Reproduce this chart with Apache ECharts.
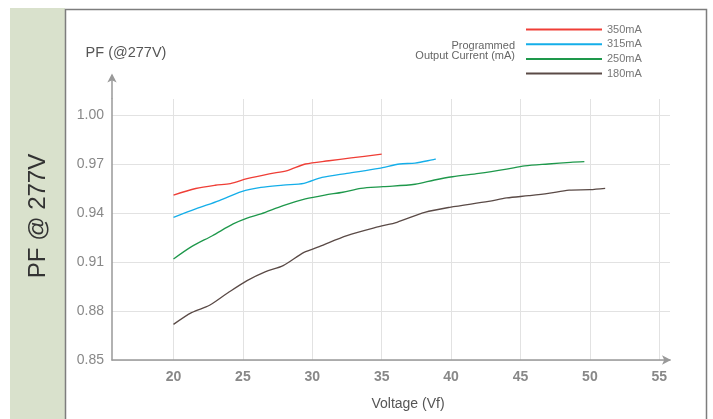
<!DOCTYPE html>
<html>
<head>
<meta charset="utf-8">
<script src="https://cdn.jsdelivr.net/npm/echarts@6/dist/echarts.min.js"></script>
<style>
html,body{margin:0;padding:0;background:#fff;}
#chart{width:713px;height:419px;}
</style>
</head>
<body>
<div id="chart"></div>
<script>
// Tick labels
const xTicks = [20, 25, 30, 35, 40, 45, 50, 55];
const yTicks = [0.85, 0.88, 0.91, 0.94, 0.97, 1.00];
const seriesNames = ['350mA', '315mA', '250mA', '180mA'];

// 350mA
const v350 = [20, 21.6, 23.0, 24.1, 25.3, 26.9, 28.2, 29.5, 31.2, 32.8, 35.0];
const pf350 = [0.951, 0.955, 0.957, 0.958, 0.961, 0.964, 0.966, 0.970, 0.972, 0.9737, 0.976];
// 315mA
const v315 = [20, 21.6, 23.3, 24.9, 26.3, 27.9, 29.4, 30.7, 32.5, 34.8, 36.3, 37.4, 38.9];
const pf315 = [0.9373, 0.9425, 0.9476, 0.9531, 0.9557, 0.9571, 0.9582, 0.9618, 0.9643, 0.9673, 0.970, 0.9706, 0.973];
// 250mA
const v250 = [20, 21.3, 22.8, 24.3, 25.3, 26.3, 27.9, 29.5, 30.9, 32.2, 33.5, 35.1, 37.4, 38.8, 40.1, 42, 44, 45.3, 47, 48.6, 49.6];
const pf250 = [0.9118, 0.9194, 0.9261, 0.9333, 0.9369, 0.9394, 0.9445, 0.9486, 0.951, 0.9527, 0.9551, 0.9561, 0.9576, 0.9602, 0.9622, 0.9643, 0.9669, 0.9688, 0.970, 0.971, 0.9714];
// 180mA
const v180 = [20, 21.3, 22.6, 23.9, 25.3, 26.6, 27.9, 29.4, 30.5, 32.5, 34.8, 36.1, 38.1, 39.9, 42.7, 44, 45.6, 47, 48.5, 50, 51.1];
const pf180 = [0.8718, 0.879, 0.8835, 0.891, 0.8986, 0.904, 0.9078, 0.9159, 0.9194, 0.9261, 0.9316, 0.9343, 0.9404, 0.9435, 0.9471, 0.9492, 0.9506, 0.952, 0.954, 0.9543, 0.9551];

const colors = ['#ef3e36', '#14aee9', '#1e984b', '#5a4a46'];
const xs = [v350, v315, v250, v180];
const ys = [pf350, pf315, pf250, pf180];

const font = "'Liberation Sans', Arial, Helvetica, sans-serif";
const chart = echarts.init(document.getElementById('chart'), null, {renderer: 'canvas'});

const series = seriesNames.map((n, i) => ({
  name: n,
  type: 'line',
  data: xs[i].map((v, j) => [v, ys[i][j]]),
  smooth: 0.3,
  showSymbol: false,
  lineStyle: {color: colors[i], width: 1.3},
  itemStyle: {color: colors[i]},
  emphasis: {disabled: true},
  animation: false
}));

chart.setOption({
  animation: false,
  textStyle: {fontFamily: font},
  grid: {left: 112, top: 99, right: 43, bottom: 59, containLabel: false},
  graphic: [
    {type: 'rect', shape: {x: 10, y: 8, width: 55, height: 420}, style: {fill: '#d9e1cc'}, z: -10},
    {type: 'rect', shape: {x: 65.5, y: 9.5, width: 641, height: 420}, style: {fill: 'none', stroke: '#7d7d7d', lineWidth: 1.5}, z: -5},
    {type: 'text', x: 38, y: 216, rotation: Math.PI / 2,
     style: {text: 'PF @ 277V', font: "24px " + font, fill: '#333', align: 'center', verticalAlign: 'middle'}},
    {type: 'line', shape: {x1: 112, y1: 99, x2: 112, y2: 75}, style: {stroke: '#999', lineWidth: 1.5}},
    {type: 'text', x: 515, y: 46,
     style: {text: 'Programmed', font: "11px " + font, fill: '#666', align: 'right', verticalAlign: 'middle'}},
    {type: 'text', x: 515, y: 56,
     style: {text: 'Output Current (mA)', font: "11px " + font, fill: '#666', align: 'right', verticalAlign: 'middle'}}
  ],
  legend: {
    data: seriesNames,
    orient: 'vertical',
    left: 526,
    top: 23,
    itemWidth: 76,
    itemHeight: 2,
    itemGap: 1.7,
    icon: 'rect',
    padding: 0,
    selectedMode: false,
    textStyle: {fontSize: 11, lineHeight: 13, color: '#777', fontFamily: font}
  },
  xAxis: {
    type: 'value',
    min: 15.57,
    max: 55.77,
    name: 'Voltage (Vf)',
    nameLocation: 'middle',
    nameGap: 37,
    nameTextStyle: {fontSize: 14, color: '#555', padding: [0, 0, 0, 34]},
    axisLine: {show: true, onZero: false, symbol: ['none', 'arrow'], symbolSize: [7, 9], symbolOffset: [0, 1],
      lineStyle: {color: '#999', width: 1.5}},
    axisTick: {show: false, customValues: xTicks},
    axisLabel: {customValues: xTicks, fontSize: 14, fontWeight: 'bold', color: '#888', margin: 10},
    splitLine: {show: true, lineStyle: {color: '#e2e2e2', width: 1}}
  },
  yAxis: {
    type: 'value',
    min: 0.85,
    max: 1.0098,
    name: 'PF (@277V)',
    nameLocation: 'end',
    nameGap: 39,
    nameTextStyle: {fontSize: 14.5, color: '#555', align: 'center', padding: [0, 0, 0, 28]},
    axisLine: {show: true, symbol: ['none', 'arrow'], symbolSize: [7, 9], symbolOffset: [0, 25.5],
      lineStyle: {color: '#999', width: 1.5}},
    axisTick: {show: false, customValues: yTicks},
    axisLabel: {customValues: yTicks, fontSize: 14, color: '#888', margin: 8,
      formatter: v => v.toFixed(2)},
    splitLine: {show: true, lineStyle: {color: '#e2e2e2', width: 1}}
  },
  series: series
});
</script>
</body>
</html>
